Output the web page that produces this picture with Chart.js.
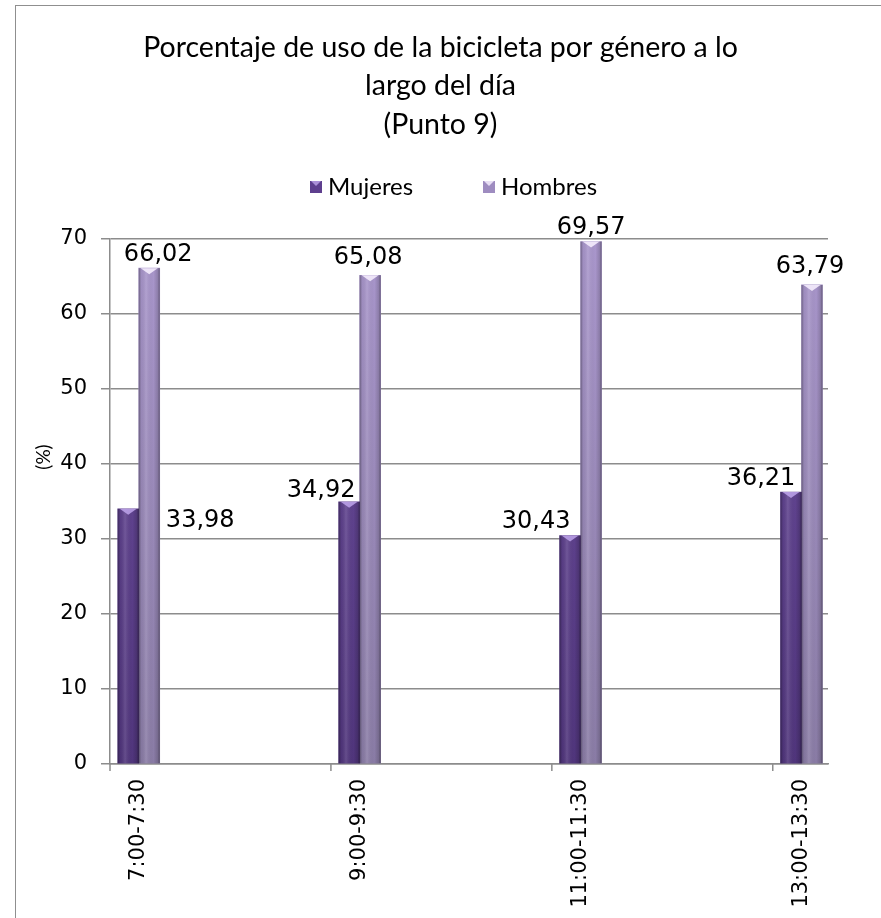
<!DOCTYPE html>
<html>
<head>
<meta charset="utf-8">
<script src="https://cdn.jsdelivr.net/npm/chart.js@4.4.0/dist/chart.umd.min.js"></script>
<style>
  html, body { margin: 0; padding: 0; background: #fff; }
  #wrap { position: relative; width: 881px; height: 918px; overflow: hidden; }
  #frame { position: absolute; left: 15px; top: 5px; width: 900px; height: 950px;
           border-left: 1.5px solid #8f8f8f; border-top: 1.5px solid #8f8f8f; }
  #c { position: absolute; left: 0; top: 0; }
</style>
</head>
<body>
<div id="wrap"><div id="frame"></div><canvas id="c" width="881" height="918"></canvas></div>
<script>
// Porcentaje de uso de la bicicleta por género (Punto 9)
var categories = ['7:00-7:30', '9:00-9:30', '11:00-11:30', '13:00-13:30'];
var mujeres = [33.98, 34.92, 30.43, 36.21];
var hombres = [66.02, 65.08, 69.57, 63.79];
var yTicks = [0, 10, 20, 30, 40, 50, 60, 70];
var seriesNames = ['Mujeres', 'Hombres'];

// label nudges (px) relative to the top centre of each bar, as placed in the original
var offMujeres = [[72, 12], [-28, -11], [-34, -14], [-30, -13]];
var offHombres = [[9, -13], [-2, -17], [0, -14], [-2, -18]];

var TEXT_FONT = 'Lato, "Open Sans", sans-serif';
var NUM_FONT = '"DejaVu Sans", sans-serif';
var GRID = '#8c8c8c';
var PAIR = 0.13; // bars sit at the left of each category slot

function pts(vals) {
  return vals.map(function (v, i) { return { x: i + PAIR, y: v }; });
}

function vGrad(top, bottom) {
  return function (ctx) {
    var ch = ctx.chart, area = ch.chartArea;
    if (!area) return top;
    var g = ch.ctx.createLinearGradient(0, area.top, 0, area.bottom);
    g.addColorStop(0, top);
    g.addColorStop(1, bottom);
    return g;
  };
}

var barShade = {
  id: 'barShade',
  afterDatasetsDraw: function (chart) {
    var c = chart.ctx;
    var bevel = ['rgba(190,165,235,0.85)', 'rgba(240,232,250,0.95)'];
    chart.data.datasets.forEach(function (ds, di) {
      chart.getDatasetMeta(di).data.forEach(function (el) {
        var l = el.x - el.width / 2, r = el.x + el.width / 2;
        var g = c.createLinearGradient(l, 0, r, 0);
        g.addColorStop(0, 'rgba(0,0,0,0.35)');
        g.addColorStop(0.12, 'rgba(0,0,0,0.05)');
        g.addColorStop(0.35, 'rgba(255,255,255,0.12)');
        g.addColorStop(0.7, 'rgba(0,0,0,0)');
        g.addColorStop(0.9, 'rgba(0,0,0,0.15)');
        g.addColorStop(1, 'rgba(0,0,0,0.4)');
        c.save();
        c.fillStyle = g;
        c.fillRect(l, el.y, el.width, el.base - el.y);
        c.fillStyle = bevel[di];
        c.beginPath();
        c.moveTo(l + 2, el.y);
        c.lineTo(r - 2, el.y);
        c.lineTo(el.x, el.y + 6);
        c.closePath();
        c.fill();
        c.restore();
      });
    });
  }
};

var valueLabels = {
  id: 'valueLabels',
  afterDatasetsDraw: function (chart) {
    var c = chart.ctx;
    var offs = [offMujeres, offHombres];
    c.save();
    c.font = '24px ' + NUM_FONT;
    c.fillStyle = '#000';
    c.textAlign = 'center';
    c.textBaseline = 'middle';
    chart.data.datasets.forEach(function (ds, di) {
      chart.getDatasetMeta(di).data.forEach(function (el, i) {
        var txt = ds.data[i].y.toFixed(2).replace('.', ',');
        c.fillText(txt, el.x + offs[di][i][0], el.y + offs[di][i][1]);
      });
    });
    c.restore();
  }
};

// small marks below the axis at each category boundary
var catMarks = {
  id: 'catMarks',
  afterDraw: function (chart) {
    var xs = chart.scales.x, b = chart.chartArea.bottom, c = chart.ctx;
    c.save();
    c.strokeStyle = GRID;
    c.lineWidth = 1.5;
    categories.forEach(function (cat, i) {
      var px = xs.getPixelForValue(i);
      c.beginPath();
      c.moveTo(px, b);
      c.lineTo(px, b + 7);
      c.stroke();
    });
    c.restore();
  }
};

// y-axis caption sits above centre in the original, so it is drawn here
var yCaption = {
  id: 'yCaption',
  afterDraw: function (chart) {
    var c = chart.ctx;
    c.save();
    c.translate(44, 457);
    c.rotate(-Math.PI / 2);
    c.font = '19px ' + TEXT_FONT;
    c.fillStyle = '#000';
    c.textAlign = 'center';
    c.textBaseline = 'middle';
    c.fillText('(%)', 0, 0);
    c.restore();
  }
};

// legend drawn by hand: Excel spacing between entries is much wider than Chart.js allows
var legendRow = {
  id: 'legendRow',
  afterDraw: function (chart) {
    var c = chart.ctx;
    var fills = ['#5e3f8e', '#9e8cc0'];
    var xStart = [310, 483], y = 187;
    c.save();
    c.font = '24px ' + TEXT_FONT;
    c.textBaseline = 'middle';
    c.textAlign = 'left';
    seriesNames.forEach(function (name, i) {
      c.fillStyle = fills[i];
      c.fillRect(xStart[i], y - 6, 12, 12);
      c.fillStyle = i ? 'rgba(240,232,250,0.9)' : 'rgba(190,165,235,0.8)';
      c.beginPath();
      c.moveTo(xStart[i] + 1, y - 6);
      c.lineTo(xStart[i] + 11, y - 6);
      c.lineTo(xStart[i] + 6, y - 1);
      c.closePath();
      c.fill();
      c.fillStyle = '#000';
      c.fillText(name, xStart[i] + 18, y);
    });
    c.restore();
  }
};

new Chart(document.getElementById('c'), {
  type: 'bar',
  data: {
    datasets: [
      { label: seriesNames[0], data: pts(mujeres), backgroundColor: vGrad('#6e4fa0', '#50357c'), barThickness: 21 },
      { label: seriesNames[1], data: pts(hombres), backgroundColor: vGrad('#aa97cd', '#8a7ca6'), barThickness: 21 }
    ]
  },
  options: {
    responsive: false,
    animation: false,
    layout: { padding: { top: 28, left: 0, right: 0, bottom: 0 } },
    scales: {
      x: {
        type: 'linear',
        offset: false,
        min: 0,
        max: 3.25,
        afterBuildTicks: function (s) {
          s.ticks = categories.map(function (c, i) { return { value: i + PAIR }; });
        },
        afterFit: function (s) { s.height = 154; },
        grid: { display: false, drawTicks: false },
        border: { display: true, color: GRID, width: 1.5 },
        ticks: {
          autoSkip: false, minRotation: 90, maxRotation: 90, padding: 15,
          color: '#000', font: { family: NUM_FONT, size: 21 },
          callback: function (v, i) { return categories[i]; }
        }
      },
      y: {
        min: 0,
        max: 70,
        afterBuildTicks: function (s) {
          s.ticks = yTicks.map(function (v) { return { value: v }; });
        },
        afterFit: function (s) { s.width = 110; },
        grid: { color: GRID, lineWidth: 1.5, tickLength: 9, tickColor: GRID },
        border: { display: true, color: GRID, width: 1.5 },
        ticks: { padding: 14, color: '#000', font: { family: NUM_FONT, size: 21 } }
      },
      // empty right-hand spacer so the plot stops short of the frame while the title stays centred
      yRight: {
        type: 'linear',
        position: 'right',
        grid: { display: false },
        border: { display: false },
        ticks: { display: false },
        afterFit: function (s) { s.width = 53; }
      }
    },
    plugins: {
      legend: { display: false },
      tooltip: { enabled: false },
      title: {
        display: true,
        text: ['Porcentaje de uso de la bicicleta por género a lo', 'largo del día', '(Punto 9)'],
        color: '#000',
        font: { family: TEXT_FONT, size: 28.5, weight: 'normal', lineHeight: 1.36 },
        padding: { top: 0, bottom: 94 }
      }
    }
  },
  plugins: [barShade, valueLabels, catMarks, yCaption, legendRow]
});
</script>
</body>
</html>
